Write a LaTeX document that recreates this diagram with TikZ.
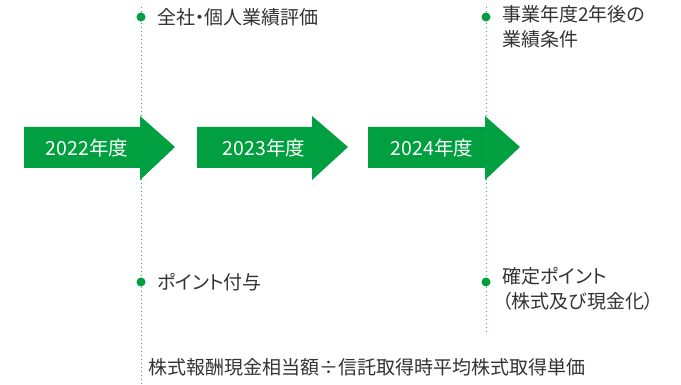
\documentclass[tikz,border=0pt]{standalone}
\usepackage{fontspec}
\newfontfamily\cjk[RawFeature=+palt]{Noto Sans CJK JP}
\newfontfamily\cjkyear{Noto Sans CJK JP}
\definecolor{grn}{HTML}{00A040}
\definecolor{grnl}{HTML}{2EAA60}
\definecolor{txt}{HTML}{333333}
\tikzset{
  arrowshape/.style={fill=grn, draw=none},
  yearlabel/.style={text=white, font=\cjkyear\fontsize{19.5}{22}\selectfont, inner sep=0pt},
  guide/.style={grnl, line width=1pt, dash pattern=on 1pt off 3pt},
  marker/.style={circle, fill=grn, inner sep=0pt, minimum size=9pt},
  label/.style={text=txt, font=\cjk\fontsize{19}{25}\selectfont, inner sep=0pt, anchor=west, align=left},
}
\begin{document}
\begin{tikzpicture}[x=1pt,y=-1pt]
\useasboundingbox (0,0) rectangle (681,385);
% arrows
\fill[arrowshape] (24,127) -- (140,127) -- (140,116) -- (175,147) -- (140,180) -- (140,168) -- (24,168) -- cycle;
\fill[arrowshape] (197,127) -- (312,127) -- (312,116) -- (348,147) -- (312,180) -- (312,168) -- (197,168) -- cycle;
\fill[arrowshape] (368,127) -- (485,127) -- (485,116) -- (520,147) -- (485,180) -- (485,168) -- (368,168) -- cycle;
\node[yearlabel] (y1) at (87,148) {2022年度};
\node[yearlabel] (y2) at (264,148) {2023年度};
\node[yearlabel] (y3) at (432,148) {2024年度};
% guide lines
\coordinate (g1t) at (141,7);
\coordinate (g1b) at (141,384);
\coordinate (g2t) at (486,7);
\coordinate (g2b) at (486,334);
\draw[guide] (g1t) -- (g1b);
\draw[guide] (g2t) -- (g2b);
% markers
\node[marker] (m1) at (141,17) {};
\node[marker] (m2) at (141,282) {};
\node[marker] (m3) at (486,17) {};
\node[marker] (m4) at (486,282) {};
% labels
\node[label] (t1) at (157,17) {全社・個人業績評価};
\node[label, anchor=north west] (t2) at (502,5) {事業年度2年後の\\業績条件};
\node[label] (t3) at (157,282) {ポイント付与};
\node[label, anchor=north west] (t4) at (502,267) {確定ポイント\\（株式及び現金化）};
\node[label] (t5) at (148,367) {株式報酬現金相当額÷信託取得時平均株式取得単価};
\end{tikzpicture}
\end{document}
